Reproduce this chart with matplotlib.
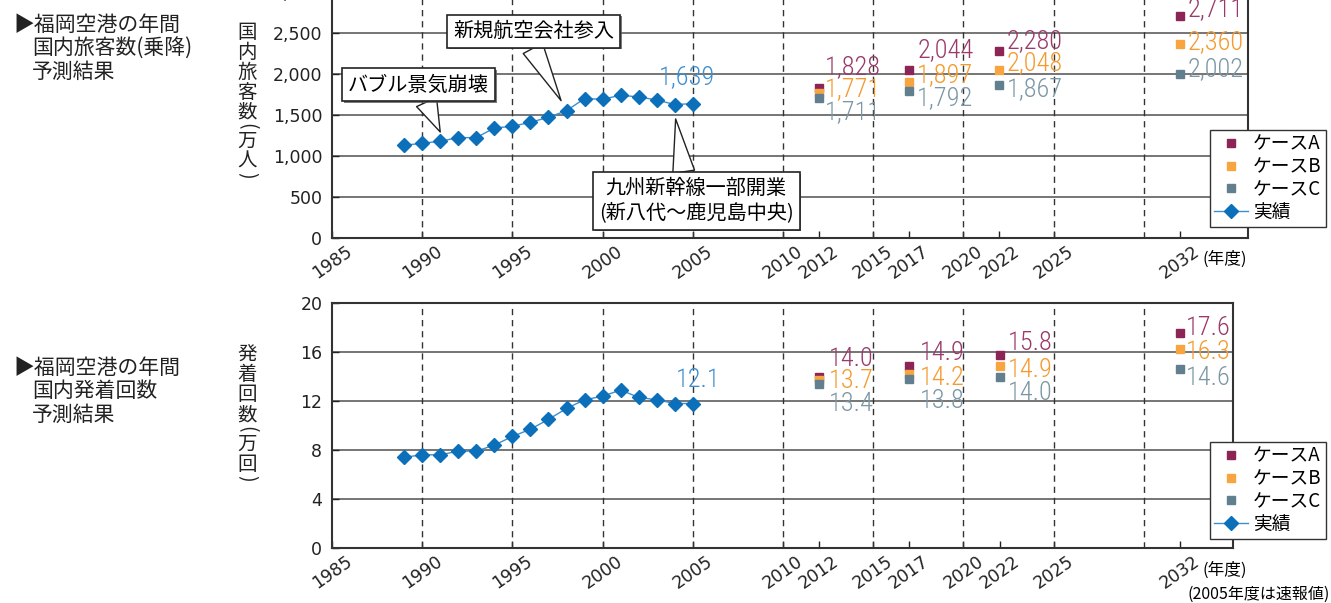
import matplotlib
matplotlib.use("Agg")
import matplotlib.pyplot as plt
import matplotlib.patheffects as pe
from matplotlib.lines import Line2D
from matplotlib.ticker import FuncFormatter

plt.rcParams["font.family"] = ["Noto Sans CJK JP", "DejaVu Sans"]

# ---- data ----
YEARS = list(range(1989, 2006))
PASSENGERS = [1131, 1155, 1180, 1224, 1224, 1342, 1362, 1411, 1472, 1553,
              1700, 1692, 1741, 1720, 1684, 1627, 1639]
FLIGHTS = [7.4, 7.6, 7.6, 7.9, 7.9, 8.4, 9.1, 9.7, 10.5, 11.4,
           12.1, 12.4, 12.9, 12.3, 12.1, 11.8, 11.8]
PAX_LAST_LABEL = "1,639"
FLT_LAST_LABEL = "12.1"

FORECAST_YEARS = [2012, 2017, 2022, 2032]
PAX_A = [1828, 2044, 2280, 2711]
PAX_B = [1771, 1897, 2048, 2360]
PAX_C = [1711, 1792, 1867, 2002]
FLT_A = [14.0, 14.9, 15.8, 17.6]
FLT_B = [13.7, 14.2, 14.9, 16.3]
FLT_C = [13.4, 13.8, 14.0, 14.6]

CASES = ["ケースA", "ケースB", "ケースC"]
ACTUAL = "実績"
XTICKS = [1985, 1990, 1995, 2000, 2005, 2010, 2012, 2015, 2017, 2020, 2022, 2025, 2032]
GRID_YEARS = [1990, 1995, 2000, 2005, 2010, 2015, 2020, 2025, 2030]

# ---- styling ----
CASE_COLORS = ["#8c2455", "#f7a540", "#617f8e"]
CASE_TEXT = ["#9a3a6a", "#f49a2e", "#7b97a5"]
LINE_BLUE = "#3b8fd0"
MARK_BLUE = "#0b6fba"
TEXT_BLUE = "#3d8ed0"
NUM_FONT = ["Roboto Condensed", "Liberation Sans Narrow", "Roboto", "DejaVu Sans"]
TICK_FONT = ["DejaVu Sans"]

# label offsets in pixels (dx to text left edge, dy to text centre) per case/year
PAX_OFFSETS = [
    [(6, 21), (8, 20), (7, 10), (8, 7)],
    [(6, 4), (8, 7), (7, 7), (8, 2)],
    [(6, -14), (8, -7), (7, -4), (8, 5)],
]
FLT_OFFSETS = [
    [(10, 18), (11, 13), (8, 12), (6, 5)],
    [(10, -1), (11, -4), (8, -4), (6, -3)],
    [(10, -20), (11, -22), (8, -16), (6, -9)],
]

W, H = 1331, 603


def fig_rect(left, top, right, bottom):
    return [left / W, 1 - bottom / H, (right - left) / W, (bottom - top) / H]


def style_axes(ax, xmax, ymax, ystep):
    ax.set_xlim(1985, xmax)
    ax.set_ylim(0, ymax)
    ax.set_yticks(range(0, int(ymax) + 1, ystep))
    ax.set_xticks(XTICKS)
    ax.set_xticklabels([str(y) for y in XTICKS], rotation=35, family=TICK_FONT)
    for lbl in ax.get_yticklabels():
        lbl.set_family(TICK_FONT)
    ax.tick_params(direction="in", length=5, labelsize=12.5, colors="#222222",
                   width=1)
    ax.tick_params(axis="y", pad=7)
    ax.tick_params(axis="x", pad=3)
    ax.yaxis.grid(True, color="#505050", lw=1.1)
    for yr in GRID_YEARS:
        ax.axvline(yr, color="#333333", lw=1, dashes=(4.5, 3.5), zorder=1)
    for sp in ax.spines.values():
        sp.set_color("#333333")
        sp.set_linewidth(1.5)
    ax.set_axisbelow(True)


def draw_series(ax, actual, last_label, last_off, cases, offsets, fmt):
    ax.plot(YEARS, actual, color=LINE_BLUE, lw=1, marker="D", ms=6.8,
            mfc=MARK_BLUE, mec=MARK_BLUE, zorder=4)
    ax.annotate(last_label, xy=(YEARS[-1], actual[-1]), xytext=last_off,
                textcoords="offset pixels", ha="center", va="center",
                fontsize=19, fontweight="light", color=TEXT_BLUE,
                family=NUM_FONT, zorder=5)
    for vals, color, tcolor, offs in zip(cases, CASE_COLORS, CASE_TEXT, offsets):
        ax.plot(FORECAST_YEARS, vals, ls="none", marker="s", ms=5.8,
                color=color, zorder=4)
        for yr, v, off in zip(FORECAST_YEARS, vals, offs):
            ax.annotate(fmt(v), xy=(yr, v), xytext=off, textcoords="offset pixels",
                        ha="left", va="center", fontsize=19, fontweight="light",
                        color=tcolor, family=NUM_FONT, zorder=5)


def add_legend(ax, fig, top_px):
    handles = [Line2D([], [], ls="none", marker="s", ms=6, color=c) for c in CASE_COLORS]
    handles.append(Line2D([], [], color=LINE_BLUE, lw=1, marker="D", ms=6.8,
                          mfc=MARK_BLUE, mec=MARK_BLUE))
    leg = ax.legend(handles, CASES + [ACTUAL], loc="upper left",
                    bbox_to_anchor=(1210 / W, 1 - top_px / H),
                    bbox_transform=fig.transFigure, fontsize=13.5,
                    frameon=True, fancybox=False, framealpha=1,
                    edgecolor="#333333", borderpad=0.2, labelspacing=0.1,
                    handlelength=1.85, handletextpad=0.25, borderaxespad=0)
    leg.get_frame().set_linewidth(1.0)
    leg.set_zorder(10)


def callout(ax, text, xy, xytext, relpos):
    ann = ax.annotate(
        text, xy=xy, xytext=xytext, textcoords="data", ha="center", va="center",
        fontsize=14.5, multialignment="center", zorder=7,
        bbox=dict(boxstyle="square,pad=0.3", fc="white", ec="#222222", lw=1.2),
        arrowprops=dict(arrowstyle="wedge,tail_width=1.0,shrink_factor=0.5",
                        fc="white", ec="#222222", lw=1.0, relpos=relpos,
                        shrinkA=0, shrinkB=0, mutation_scale=15.8),
    )
    ann.get_bbox_patch().set_path_effects(
        [pe.SimplePatchShadow(offset=(1.2, -1.2), shadow_rgbFace="0.35", alpha=0.8),
         pe.Normal()])
    return ann


def side_title(fig, lines, top_px):
    fig.text(13 / W, 1 - top_px / H, "▶" + lines[0], fontsize=15,
             va="center", ha="left", color="#222222")
    for i, line in enumerate(lines[1:], start=1):
        fig.text(32 / W, 1 - (top_px + i * 23.3) / H, line, fontsize=15,
                 va="center", ha="left", color="#222222")


def vertical_label(fig, text, x_px, top_px):
    # upright characters stacked; brackets turned to their vertical form
    y = top_px
    prev = None
    for ch in text:
        bracket = ch in "()"
        if prev is not None:
            y += 14.5 if (bracket or prev in "()") else 20
        fig.text(x_px / W, 1 - y / H, ch, fontsize=14, ha="center", va="center",
                 rotation=-90 if bracket else 0, color="#222222")
        prev = ch


fig = plt.figure(figsize=(W / 100, H / 100), dpi=100)
ax1 = fig.add_axes(fig_rect(332, -8, 1248, 238))
ax2 = fig.add_axes(fig_rect(332, 303.3, 1233, 547.7))

style_axes(ax1, 2035.78, 3000, 500)
style_axes(ax2, 2034.94, 20, 4)
ax1.yaxis.set_major_formatter(FuncFormatter(lambda v, p: f"{int(v):,}"))

draw_series(ax1, PASSENGERS, PAX_LAST_LABEL, (-6, 26),
            [PAX_A, PAX_B, PAX_C], PAX_OFFSETS, lambda v: f"{v:,}")
draw_series(ax2, FLIGHTS, FLT_LAST_LABEL, (5, 24),
            [FLT_A, FLT_B, FLT_C], FLT_OFFSETS, lambda v: f"{v:.1f}")

add_legend(ax1, fig, 129.5)
add_legend(ax2, fig, 441.5)

callout(ax1, "バブル景気崩壊", xy=(1991, 1293), xytext=(1989.8, 1867), relpos=(0.535, 0))
callout(ax1, "新規航空会社参入", xy=(1997.7, 1675), xytext=(1996.17, 2522), relpos=(0.474, 0))
callout(ax1, "九州新幹線一部開業\n(新八代〜鹿児島中央)", xy=(2004.05, 1452),
        xytext=(2005.2, 451), relpos=(0.44, 1))

vertical_label(fig, "国内旅客数(万人)", 247, 32)
vertical_label(fig, "発着回数(万回)", 247, 355)

side_title(fig, ["福岡空港の年間", "国内旅客数(乗降)", "予測結果"], 25)
side_title(fig, ["福岡空港の年間", "国内発着回数", "予測結果"], 368)

fig.text(1225 / W, 1 - 259 / H, "(年度)", fontsize=12, ha="center", va="center")
fig.text(1225 / W, 1 - 570 / H, "(年度)", fontsize=12, ha="center", va="center")
fig.text(1330 / W, 1 - 594 / H, "(2005年度は速報値)", fontsize=11.5,
         ha="right", va="center")

fig.savefig("out.png", dpi=100)
